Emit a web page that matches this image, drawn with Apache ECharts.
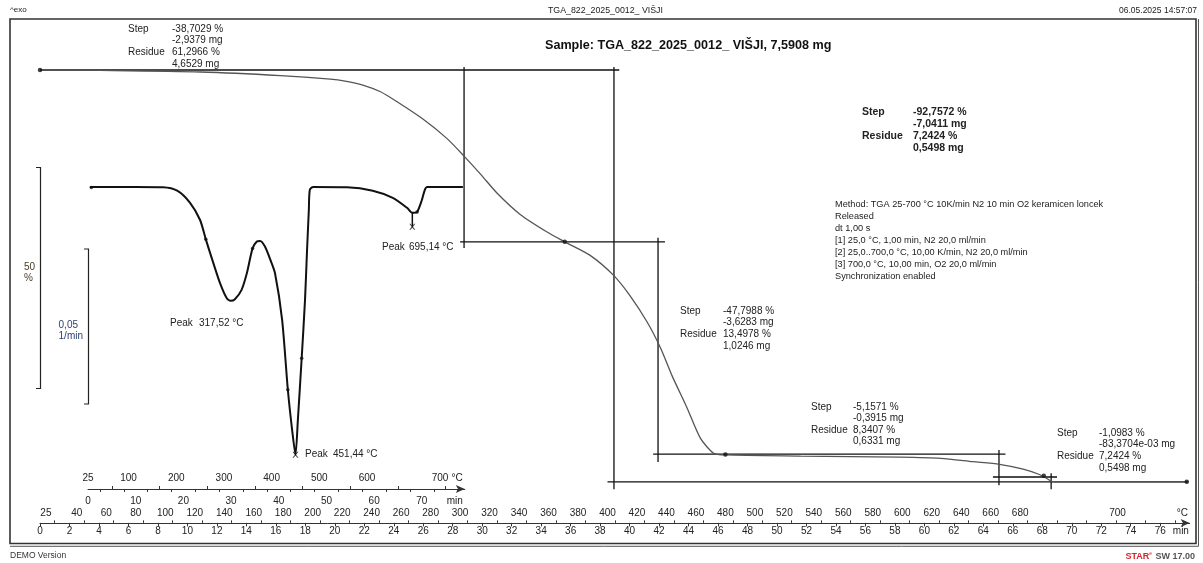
<!DOCTYPE html>
<html>
<head>
<meta charset="utf-8">
<script src="https://cdn.jsdelivr.net/npm/echarts@6/dist/echarts.min.js"></script>
<style>
html,body{margin:0;padding:0;background:#fff;}
#chart{width:1203px;height:563px;}
</style>
</head>
<body>
<div id="chart"></div>
<script>
// ---------- DATA ----------
// TGA curve: time (min) vs mass (%)
const tgaTime = [0, 4.1, 10.9, 16.3, 19.7, 20.7, 21.9, 23.1, 24.2, 26.0, 27.6, 28.8, 29.9, 31.0, 32.6, 34.4, 35.6, 37.3, 38.9, 40.0, 41.2, 42.1, 42.9, 43.9, 44.8, 45.7, 46.5, 51.6, 58.3, 61.1, 63.3, 65.1, 66.7, 67.8, 68.3, 68.7, 69.2, 77.8];
const tgaPct  = [100, 99.9, 99.55, 98.75, 97.95, 97.5, 96.6, 95.1, 92.9, 88.9, 84.6, 80.5, 76.5, 72.3, 67.4, 63.5, 61.3, 58.3, 53.8, 49.3, 43.2, 37.4, 31.0, 23.9, 17.1, 13.7, 13.3, 13.05, 12.8, 12.55, 11.8, 11.2, 10.1, 8.9, 8.0, 7.3, 7.24, 7.24];
// TGA evaluation points
const tgaMarkTime = [0, 35.6, 46.5, 68.1, 77.8];
const tgaMarkPct  = [100, 61.3, 13.4, 8.6, 7.24];

// DTG curve: time (min) vs 1/min
const dtgTime = [0.4, 10, 15.7, 18.7, 21.4, 23.5, 24.7, 26.3, 27.7, 29.1, 29.9, 30.8, 32.2, 33.3, 34.5, 35.4, 36.1, 37.1, 38.2, 39.2, 40.7, 41.9, 42.8, 43.5, 44.0, 44.8, 45.5, 45.9, 46.3, 46.5, 47.2, 54.3, 59.7, 63.9, 66.9, 68.0, 69.0, 70.0, 70.6, 71.1, 78.6];
const dtgVal  = [0, 0, -0.0001, -0.0012, -0.0051, -0.0106, -0.0168, -0.0245, -0.0309, -0.0357, -0.0365, -0.036, -0.033, -0.0277, -0.0197, -0.0175, -0.0173, -0.0191, -0.0232, -0.0276, -0.0426, -0.065, -0.0779, -0.0858, -0.0747, -0.0549, -0.0362, -0.0212, -0.0074, -0.001, 0, -0.0001, -0.0012, -0.0035, -0.0067, -0.0083, -0.008, -0.0042, -0.001, 0, 0];
const dtgMarkTime = [0.7, 24.7, 34.5, 41.9, 44.8, 69.0];
const dtgMarkVal  = [-0.0002, -0.0168, -0.0197, -0.065, -0.0549, -0.008];
const dtgPeakTime = [43.5, 68.0];
const dtgPeakVal  = [-0.0858, -0.0128];
// short drop line from 695 °C peak to its marker: [t1, v1, t2, v2]
const dtgPeakDrop = [[68.0, -0.0083, 68.0, -0.0128]];

// Step evaluation lines: [t1, %1, t2, %2]
const stepSegments = [
  [0, 100, 39.3, 100],
  [28.77, 100.7, 28.77, 59.9],
  [38.94, 100.7, 38.94, 5.6],
  [28.5, 61.3, 42.4, 61.3],
  [41.93, 62.2, 41.93, 11.7],
  [41.6, 13.5, 65.5, 13.5],
  [65.06, 14.4, 65.06, 6.5],
  [64.65, 8.34, 69.0, 8.34],
  [68.6, 9.2, 68.6, 5.6],
  [38.5, 7.24, 77.9, 7.24]
];

// Axis tick labels
const timeTickLabels = [0,2,4,6,8,10,12,14,16,18,20,22,24,26,28,30,32,34,36,38,40,42,44,46,48,50,52,54,56,58,60,62,64,66,68,70,72,74,76];
const tempTickLabels = [25,40,60,80,100,120,140,160,180,200,220,240,260,280,300,320,340,360,380,400,420,440,460,480,500,520,540,560,580,600,620,640,660,680,700];
const dtgTimeLabels = [0,10,20,30,40,50,60,70];
const dtgTempLabels = [25,100,200,300,400,500,600,700];

// Text
const peakLabels = ['317,52 °C', '451,44 °C', '695,14 °C'];
const methodLines = [
  'Method: TGA 25-700 °C 10K/min N2 10 min O2 keramicen loncek',
  'Released',
  'dt 1,00 s',
  '[1] 25,0 °C, 1,00 min, N2 20,0 ml/min',
  '[2] 25,0..700,0 °C, 10,00 K/min, N2 20,0 ml/min',
  '[3] 700,0 °C, 10,00 min, O2 20,0 ml/min',
  'Synchronization enabled'
];
const stepBlocks = [
  ['-38,7029 %', '-2,9379 mg', '61,2966 %', '4,6529 mg'],
  ['-92,7572 %', '-7,0411 mg', '7,2424 %', '0,5498 mg'],
  ['-47,7988 %', '-3,6283 mg', '13,4978 %', '1,0246 mg'],
  ['-5,1571 %', '-0,3915 mg', '8,3407 %', '0,6331 mg'],
  ['-1,0983 %', '-83,3704e-03 mg', '7,2424 %', '0,5498 mg']
];

// ---------- BUILD ----------
const FONT = '"Liberation Sans", Arial, sans-serif';
const zip = (a, b) => a.map((v, i) => [v, b[i]]);
// temperature program: 1 min isothermal at 25 °C, then 10 K/min
const tempToTime = T => 1 + (T - 25) / 10;

function segData(segs) {
  const out = [];
  segs.forEach(s => { out.push([s[0], s[1]], [s[2], s[3]], '-'); });
  return out;
}

function labelAxis(times, texts) {
  return {
    values: times,
    fmt: v => {
      let best = 0, bd = Infinity;
      times.forEach((t, i) => { const d = Math.abs(t - v); if (d < bd) { bd = d; best = i; } });
      return texts[best];
    }
  };
}

const mainTimeL = labelAxis(timeTickLabels.concat([77.4]), timeTickLabels.map(String).concat(['min']));
const mainTempTimes = tempTickLabels.map(T => T === 25 ? 0.4 : (T === 700 ? 73.1 : tempToTime(T)));
const mainTempL = labelAxis(mainTempTimes.concat([77.5]), tempTickLabels.map(String).concat(['°C']));
const dtgTimeL = labelAxis(dtgTimeLabels.concat([76.9]), dtgTimeLabels.map(String).concat(['min']));
const dtgTempTimes = dtgTempLabels.map(T => T === 25 ? 0 : (T === 700 ? 73.8 : tempToTime(T)));
const dtgTempL = labelAxis(dtgTempTimes.concat([77.4]), dtgTempLabels.map(String).concat(['°C']));

const everyMin = []; for (let i = 1; i <= 77; i += 2) everyMin.push(i);
const dtgEvery = []; for (let i = 5; i <= 75; i += 10) dtgEvery.push(i);
const dtgEveryMin = []; for (let i = 2.5; i <= 78; i += 5) dtgEveryMin.push(i);

const txtStyle = (extra) => Object.assign({fontFamily: FONT, fontSize: 10, fill: '#222'}, extra);

function blockGraphics(x1, x2, yTop, lh, vals, bold) {
  const fw = bold ? 'bold' : 'normal';
  const fs = bold ? 10.5 : 10;
  return [
    {type: 'text', left: x1, top: yTop, style: txtStyle({text: 'Step\n\nResidue', lineHeight: lh, fontWeight: fw, fontSize: fs})},
    {type: 'text', left: x2, top: yTop, style: txtStyle({text: vals.join('\n'), lineHeight: lh, fontWeight: fw, fontSize: fs})}
  ];
}

const axisColor = '#333';
const baseAxis = {
  type: 'value', min: 0, splitLine: {show: false},
  axisLabel: {fontFamily: FONT, fontSize: 10, color: '#222'}
};

const option = {
  animation: false,
  backgroundColor: '#fff',
  grid: [
    {left: 40, top: 25.6, width: 1149.7, height: 497.3},
    {left: 88, top: 171, width: 376.8, height: 318}
  ],
  xAxis: [
    Object.assign({}, baseAxis, {gridIndex: 0, max: 78, position: 'bottom',
      axisLine: {show: true, onZero: false, lineStyle: {color: axisColor, width: 1}, symbol: ['none', 'arrow'], symbolSize: [6, 9]},
      axisTick: {show: true, customValues: timeTickLabels, length: 3.5, lineStyle: {color: axisColor}},
      axisLabel: {fontFamily: FONT, fontSize: 10, color: '#222', margin: 3, customValues: mainTimeL.values, formatter: mainTimeL.fmt}}),
    Object.assign({}, baseAxis, {gridIndex: 0, max: 78, position: 'bottom',
      axisLine: {show: false, onZero: false},
      axisTick: {show: true, inside: true, customValues: everyMin, length: 2.5, lineStyle: {color: axisColor}},
      axisLabel: {fontFamily: FONT, fontSize: 10, color: '#222', inside: true, margin: 5, customValues: mainTempL.values, formatter: mainTempL.fmt}}),
    Object.assign({}, baseAxis, {gridIndex: 1, max: 79, position: 'bottom',
      axisLine: {show: true, onZero: false, lineStyle: {color: axisColor, width: 1}, symbol: ['none', 'arrow'], symbolSize: [6, 9]},
      axisTick: {show: true, customValues: dtgEveryMin, length: 3, lineStyle: {color: axisColor}},
      axisLabel: {fontFamily: FONT, fontSize: 10, color: '#222', margin: 7, customValues: dtgTimeL.values, formatter: dtgTimeL.fmt}}),
    Object.assign({}, baseAxis, {gridIndex: 1, max: 79, position: 'bottom',
      axisLine: {show: false, onZero: false},
      axisTick: {show: true, inside: true, customValues: dtgEvery, length: 3, lineStyle: {color: axisColor}},
      axisLabel: {fontFamily: FONT, fontSize: 10, color: '#222', inside: true, margin: 6, customValues: dtgTempL.values, formatter: dtgTempL.fmt}})
  ],
  yAxis: [
    {gridIndex: 0, type: 'value', min: -2, max: 110, show: false},
    {gridIndex: 1, type: 'value', min: -0.0968, max: 0.0051, show: false}
  ],
  series: [
    {type: 'line', name: 'steps', xAxisIndex: 0, yAxisIndex: 0, data: segData(stepSegments),
      showSymbol: false, connectNulls: false, clip: false, lineStyle: {color: '#111', width: 1.3}, z: 2},
    {type: 'line', name: 'TGA', xAxisIndex: 0, yAxisIndex: 0, data: zip(tgaTime, tgaPct),
      showSymbol: false, smooth: 0.25, clip: false, lineStyle: {color: '#555', width: 1.3}, z: 3},
    {type: 'scatter', name: 'TGA marks', xAxisIndex: 0, yAxisIndex: 0, data: zip(tgaMarkTime, tgaMarkPct),
      symbol: 'circle', symbolSize: 4.5, itemStyle: {color: '#111'}, clip: false, z: 4},
    {type: 'line', name: 'DTG', xAxisIndex: 2, yAxisIndex: 1, data: zip(dtgTime, dtgVal),
      showSymbol: false, smooth: 0.25, clip: false, lineStyle: {color: '#111', width: 2}, z: 3},
    {type: 'line', name: 'DTG drop', xAxisIndex: 2, yAxisIndex: 1, data: segData(dtgPeakDrop),
      showSymbol: false, clip: false, lineStyle: {color: '#111', width: 1.5}, z: 3},
    {type: 'scatter', name: 'DTG marks', xAxisIndex: 2, yAxisIndex: 1, data: zip(dtgMarkTime, dtgMarkVal),
      symbol: 'circle', symbolSize: 3.5, itemStyle: {color: '#111'}, clip: false, z: 4},
    {type: 'scatter', name: 'DTG peaks', xAxisIndex: 2, yAxisIndex: 1, data: zip(dtgPeakTime, dtgPeakVal),
      symbol: 'path://M0,0L2,0L5,3.5L8,0L10,0L6,5L10,10L8,10L5,6.5L2,10L0,10L4,5Z', symbolSize: 6, itemStyle: {color: '#111'}, clip: false, z: 4}
  ],
  graphic: [].concat(
    [
      // frame
      {type: 'rect', shape: {x: 10, y: 19, width: 1186, height: 524.5}, style: {fill: 'none', stroke: '#333', lineWidth: 1.6}, z: 0},
      {type: 'polyline', shape: {points: [[10, 546.3], [1198.5, 546.3], [1198.5, 19]]}, style: {fill: 'none', stroke: '#555', lineWidth: 1}, z: 0},
      // scale bars
      {type: 'polyline', shape: {points: [[36, 167.5], [40.5, 167.5], [40.5, 388.5], [36, 388.5]]}, style: {fill: 'none', stroke: '#222', lineWidth: 1.2}},
      {type: 'polyline', shape: {points: [[84, 249], [88.5, 249], [88.5, 404], [84, 404]]}, style: {fill: 'none', stroke: '#222', lineWidth: 1.2}},
      {type: 'text', left: 24, top: 262, style: txtStyle({text: '50\n%', lineHeight: 11, fill: '#4a3c28'})},
      {type: 'text', right: 1203 - 83, top: 320, style: txtStyle({text: '0,05\n1/min', lineHeight: 11, fill: '#2c3f6e', align: 'right'})},
      // header
      {type: 'text', left: 10, top: 6, style: txtStyle({text: '^exo', fontSize: 8})},
      {type: 'text', left: 548, top: 6, style: txtStyle({text: 'TGA_822_2025_0012_ VIŠJI', fontSize: 8.8})},
      {type: 'text', right: 6, top: 6, style: txtStyle({text: '06.05.2025 14:57:07', fontSize: 8.5, align: 'right'})},
      {type: 'text', left: 545, top: 39, style: txtStyle({text: 'Sample: TGA_822_2025_0012_ VIŠJI, 7,5908 mg', fontSize: 12.6, fontWeight: 'bold', fill: '#111'})},
      // footer
      {type: 'text', left: 10, top: 551, style: txtStyle({text: 'DEMO Version', fontSize: 8.5, fill: '#333'})},
      {type: 'text', right: 8, top: 551, style: {
        text: '{r|STAR}{s|e} {g|SW 17.00}', fontFamily: FONT,
        rich: {r: {fill: '#d9262c', fontSize: 9, fontWeight: 'bold', fontFamily: FONT}, s: {fill: '#d9262c', fontSize: 5, fontFamily: FONT, verticalAlign: 'top'}, g: {fill: '#555', fontSize: 9, fontWeight: 'bold', fontFamily: FONT}}
      }},
      // method text
      {type: 'text', left: 835, top: 199, style: txtStyle({text: methodLines.join('\n'), lineHeight: 11.9, fontSize: 9.2})},
      // peak labels
      {type: 'text', left: 170, top: 318, style: txtStyle({text: 'Peak'})},
      {type: 'text', left: 199, top: 318, style: txtStyle({text: peakLabels[0]})},
      {type: 'text', left: 305, top: 449, style: txtStyle({text: 'Peak'})},
      {type: 'text', left: 333, top: 449, style: txtStyle({text: peakLabels[1]})},
      {type: 'text', left: 382, top: 242, style: txtStyle({text: 'Peak'})},
      {type: 'text', left: 409, top: 242, style: txtStyle({text: peakLabels[2]})}
    ],
    blockGraphics(128, 172, 23, 11.8, stepBlocks[0], false),
    blockGraphics(862, 913, 106, 11.9, stepBlocks[1], true),
    blockGraphics(680, 723, 305, 11.8, stepBlocks[2], false),
    blockGraphics(811, 853, 401, 11.6, stepBlocks[3], false),
    blockGraphics(1057, 1099, 427, 11.7, stepBlocks[4], false)
  )
};

const chart = echarts.init(document.getElementById('chart'), null, {renderer: 'canvas'});
chart.setOption(option);
</script>
</body>
</html>
